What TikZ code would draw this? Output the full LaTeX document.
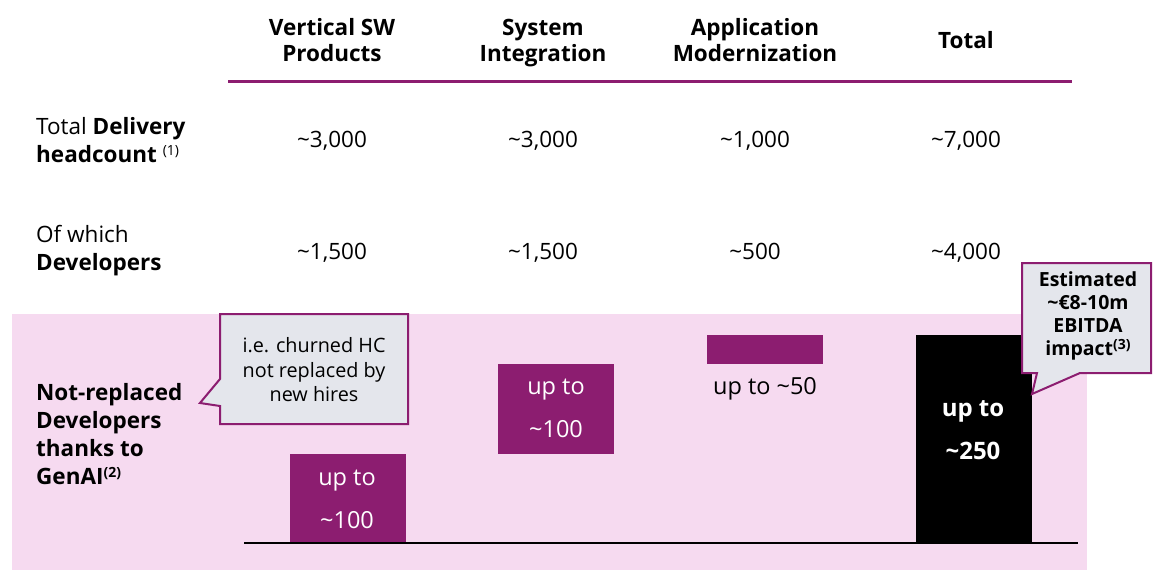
\documentclass[tikz,border=0pt]{standalone}
\usepackage{fontspec}
\setmainfont{Open Sans}
\definecolor{brandpurple}{RGB}{140,29,112}
\definecolor{bgpink}{RGB}{246,218,240}
\definecolor{callfill}{RGB}{228,230,236}
\newcommand{\tld}{\textasciitilde}
\newcommand{\sfn}[1]{\raisebox{0.6ex}{\fontsize{14}{14}\selectfont\mdseries #1}}
\newcommand{\sfb}[1]{\raisebox{0.6ex}{\fontsize{14}{14}\selectfont #1}}
\tikzset{
  hdr/.style={font=\fontsize{22.5}{26}\selectfont\bfseries, align=center, inner sep=0pt},
  val/.style={font=\fontsize{22.5}{28}\selectfont, align=center, inner sep=0pt, anchor=base},
  rowlbl/.style={font=\fontsize{22.5}{28}\selectfont, align=left, anchor=west, inner sep=0pt},
  bartxt/.style={font=\fontsize{23.5}{43}\selectfont, align=center, inner sep=0pt, text=white},
  calltxt/.style={font=\fontsize{19.8}{24.5}\selectfont, align=center, inner sep=0pt},
  purplebar/.style={fill=brandpurple, draw=none},
  callout/.style={fill=callfill, draw=brandpurple, line width=2pt, line join=miter}
}
\begin{document}
\begin{tikzpicture}[x=1pt,y=-1pt]
\useasboundingbox (0,0) rectangle (1153,570);
% background pink band
\fill[bgpink] (12,314) rectangle (1087,570);
% header line
\draw[brandpurple, line width=3pt] (228,81) -- (1072,81);
% headers
\node[hdr] (h1) at (332,40) {Vertical SW\\Products};
\node[hdr] (h2) at (543,43) {System\\Integration};
\node[hdr] (h3) at (755,40) {Application\\Modernization};
\node[hdr] (h4) at (966,40) {Total};
% row labels
\node[rowlbl] (r1) at (36,140) {Total \textbf{Delivery}\\\textbf{headcount} \sfn{(1)}};
\node[rowlbl] (r2) at (36,251) {Of which\\\textbf{Developers}};
\node[rowlbl, font=\fontsize{22.5}{28}\selectfont\bfseries] (r3) at (36,434) {Not-replaced\\Developers\\thanks to\\GenAI\sfb{(2)}};
% values
\node[val] (v11) at (332,147) {\tld3,000};
\node[val] (v12) at (543,147) {\tld3,000};
\node[val] (v13) at (755,147) {\tld1,000};
\node[val] (v14) at (966,147) {\tld7,000};
\node[val] (v21) at (332,259) {\tld1,500};
\node[val] (v22) at (543,259) {\tld1,500};
\node[val] (v23) at (755,259) {\tld500};
\node[val] (v24) at (966,259) {\tld4,000};
% bars
\fill[purplebar] (290,454) rectangle (406,543);
\node[bartxt] (b1) at (347,499) {up to\\\tld100};
\fill[purplebar] (498,364) rectangle (614,454);
\node[bartxt] (b2) at (556,408) {up to\\\tld100};
\fill[purplebar] (707,335) rectangle (823,364);
\node[bartxt, text=black] (b3) at (765,389) {up to \tld50};
\fill[black] (916,335) rectangle (1032,543);
\node[bartxt, font=\fontsize{24}{43}\selectfont\bfseries] (b4) at (973,430) {up to\\\tld250};
% baseline
\draw[black, line width=1.5pt] (244,543) -- (1078,543);
% callout 1
\draw[callout] (220,314) -- (408,314) -- (408,424) -- (220,424) -- (220,406) -- (200,403) -- (220,379) -- cycle;
\node[calltxt] (c1) at (314,370) {i.e. churned HC\\not replaced by\\new hires};
% callout 2
\draw[callout] (1022,263) -- (1151,263) -- (1151,373) -- (1080,373) -- (1032,394) -- (1037,373) -- (1022,373) -- cycle;
\node[calltxt, font=\fontsize{19.5}{23}\selectfont\bfseries] (c2) at (1088,316) {Estimated\\\tld€8-10m\\EBITDA\\impact\sfb{(3)}};
\end{tikzpicture}
\end{document}
